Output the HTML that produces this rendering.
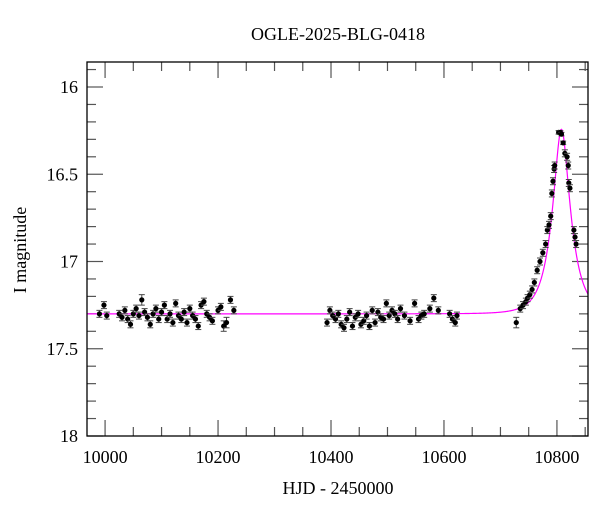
<!DOCTYPE html>
<html><head><meta charset="utf-8"><style>
body{margin:0;background:#fff;}
svg text{font-family:"Liberation Serif",serif;fill:#000;}
</style></head><body>
<svg id="chart" width="600" height="512" xmlns="http://www.w3.org/2000/svg">
<text x="338" y="40" font-size="18" text-anchor="middle">OGLE-2025-BLG-0418</text>
<text x="338" y="494" font-size="18" text-anchor="middle">HJD - 2450000</text>
<text transform="translate(26,250) rotate(-90)" font-size="18" text-anchor="middle">I magnitude</text>
<g id="axes"></g>
<g id="model"></g>
<g id="points"></g>
<rect x="87" y="62" width="501" height="374" fill="none" stroke="#000" stroke-width="1.3"/>
</svg>
<script>
const times = [9990,9998,10003,10025,10030,10035,10040,10045,10050,10055,10060,10065,10070,10075,10080,10085,10090,10095,10100,10105,10110,10115,10120,10125,10130,10135,10140,10145,10150,10155,10160,10165,10170,10175,10180,10185,10190,10200,10205,10210,10215,10222,10228,
10393,10398,10403,10408,10413,10418,10423,10428,10433,10438,10443,10448,10453,10458,10463,10468,10473,10478,10483,10488,10493,10498,10503,10508,10513,10518,10523,10530,10540,10548,10555,10560,10565,10575,10582,10590,10610,10615,10620,10623,
10728,10735,10740,10745,10748,10752,10756,10760,10765,10770,10775,10780,10783,10786,10789,10791,10793,10795,10796,10803,10806,10808,10811,10814,10818,10820,10821,10823,10830,10832,10834];
const mags = [17.30,17.25,17.31,17.30,17.32,17.28,17.33,17.36,17.30,17.27,17.31,17.22,17.29,17.32,17.36,17.30,17.27,17.33,17.29,17.25,17.33,17.30,17.35,17.24,17.31,17.33,17.29,17.35,17.27,17.31,17.33,17.37,17.25,17.23,17.30,17.32,17.34,17.28,17.26,17.37,17.35,17.22,17.28,
17.35,17.28,17.31,17.33,17.30,17.36,17.38,17.33,17.29,17.37,17.32,17.30,17.36,17.34,17.31,17.37,17.28,17.35,17.29,17.32,17.33,17.24,17.31,17.28,17.30,17.33,17.27,17.31,17.34,17.24,17.33,17.31,17.30,17.27,17.21,17.28,17.30,17.33,17.35,17.31,
17.35,17.27,17.25,17.23,17.21,17.19,17.16,17.12,17.05,17.00,16.95,16.90,16.82,16.79,16.74,16.61,16.54,16.47,16.45,16.26,16.26,16.27,16.32,16.38,16.40,16.45,16.55,16.58,16.82,16.86,16.90];
const errs = [0.02,0.02,0.02,0.02,0.02,0.02,0.02,0.02,0.02,0.02,0.02,0.03,0.02,0.02,0.02,0.02,0.02,0.02,0.02,0.02,0.02,0.02,0.02,0.02,0.02,0.02,0.02,0.02,0.02,0.02,0.02,0.02,0.02,0.02,0.02,0.02,0.02,0.02,0.02,0.03,0.03,0.02,0.02,
0.02,0.02,0.02,0.02,0.02,0.02,0.02,0.02,0.02,0.02,0.02,0.02,0.02,0.02,0.02,0.02,0.02,0.02,0.02,0.02,0.02,0.02,0.02,0.02,0.02,0.02,0.02,0.02,0.02,0.02,0.02,0.02,0.02,0.02,0.02,0.02,0.02,0.02,0.02,0.02,
0.03,0.02,0.02,0.02,0.02,0.02,0.02,0.02,0.02,0.02,0.02,0.02,0.02,0.02,0.02,0.02,0.02,0.02,0.02,0.01,0.01,0.01,0.01,0.02,0.02,0.02,0.02,0.02,0.02,0.02,0.02];
const xTickLabels = [10000,10200,10400,10600,10800];
const yTickLabels = [16,16.5,17,17.5,18];
const modelParams = [10808, 30, 0.4, 17.30]; // t0, tE, u0, baseline mag

const NS = "http://www.w3.org/2000/svg";
const L=87,R=588,T=62,B=436;
const xMin=9968,xMax=10855;
function xs(t){return L+(t-xMin)/(xMax-xMin)*(R-L);}
function ys(m){return 87+(m-16)/2*(B-87);}
function mk(tag,attrs,parent){const e=document.createElementNS(NS,tag);for(const k in attrs)e.setAttribute(k,attrs[k]);parent.appendChild(e);return e;}
const axes=document.getElementById('axes');
// x ticks
for(let t=10000;t<=10850;t+=50){
  const major=(t%200===0);const len=major?16:9;
  const ln=mk('line',{x1:xs(t),x2:xs(t),y1:B,y2:B-len,stroke:'#555','stroke-width':1.2},axes);
  
  
  const ln2=mk('line',{x1:xs(t),x2:xs(t),y1:T,y2:T+len,stroke:'#555','stroke-width':1.2},axes);
  
  
}
xTickLabels.forEach(v=>{
  const tx=mk('text',{x:xs(v),y:B+27,'font-size':18,'text-anchor':'middle'},axes);tx.textContent=v;
  
  
});
// y ticks
for(let i=0;i<=21;i++){
  const m=15.9+i*0.1;if(ys(m)<T||ys(m)>B+0.5)continue;
  const major=(Math.abs(m*2-Math.round(m*2))<1e-6);const len=major?16:9;
  const a=mk('line',{x1:L,x2:L+len,y1:ys(m),y2:ys(m),stroke:'#555','stroke-width':1.2},axes);
  
  
  const b=mk('line',{x1:R,x2:R-len,y1:ys(m),y2:ys(m),stroke:'#555','stroke-width':1.2},axes);
  
  
}
yTickLabels.forEach(v=>{
  const tx=mk('text',{x:78,y:ys(v)+6,'font-size':18,'text-anchor':'end'},axes);tx.textContent=v;
  
  
});
// model
function modelMag(t){const [t0,tE,u0,base]=modelParams;const tau=(t-t0)/tE;const u=Math.sqrt(u0*u0+tau*tau);const A=(u*u+2)/(u*Math.sqrt(u*u+4));return base-2.5*Math.log10(A);}
let d='';for(let t=xMin;t<=xMax;t+=1){d+=(d?'L':'M')+xs(t).toFixed(2)+','+ys(modelMag(t)).toFixed(2);}
const mp=mk('path',{d:d,fill:'none',stroke:'#ff00ff','stroke-width':1.2},document.getElementById('model'));


// points
const pg=document.getElementById('points');
times.forEach((t,i)=>{
  const g=mk('g',{},pg);
  
  
  const x=xs(t),y=ys(mags[i]),y1=ys(mags[i]-errs[i]),y2=ys(mags[i]+errs[i]);
  mk('line',{x1:x,x2:x,y1:y1,y2:y2,stroke:'#444','stroke-width':1},g);
  mk('line',{x1:x-3,x2:x+3,y1:y1,y2:y1,stroke:'#444','stroke-width':1},g);
  mk('line',{x1:x-3,x2:x+3,y1:y2,y2:y2,stroke:'#444','stroke-width':1},g);
  mk('circle',{cx:x,cy:y,r:2.6,fill:'#000'},g);
});
</script>
</body></html>
